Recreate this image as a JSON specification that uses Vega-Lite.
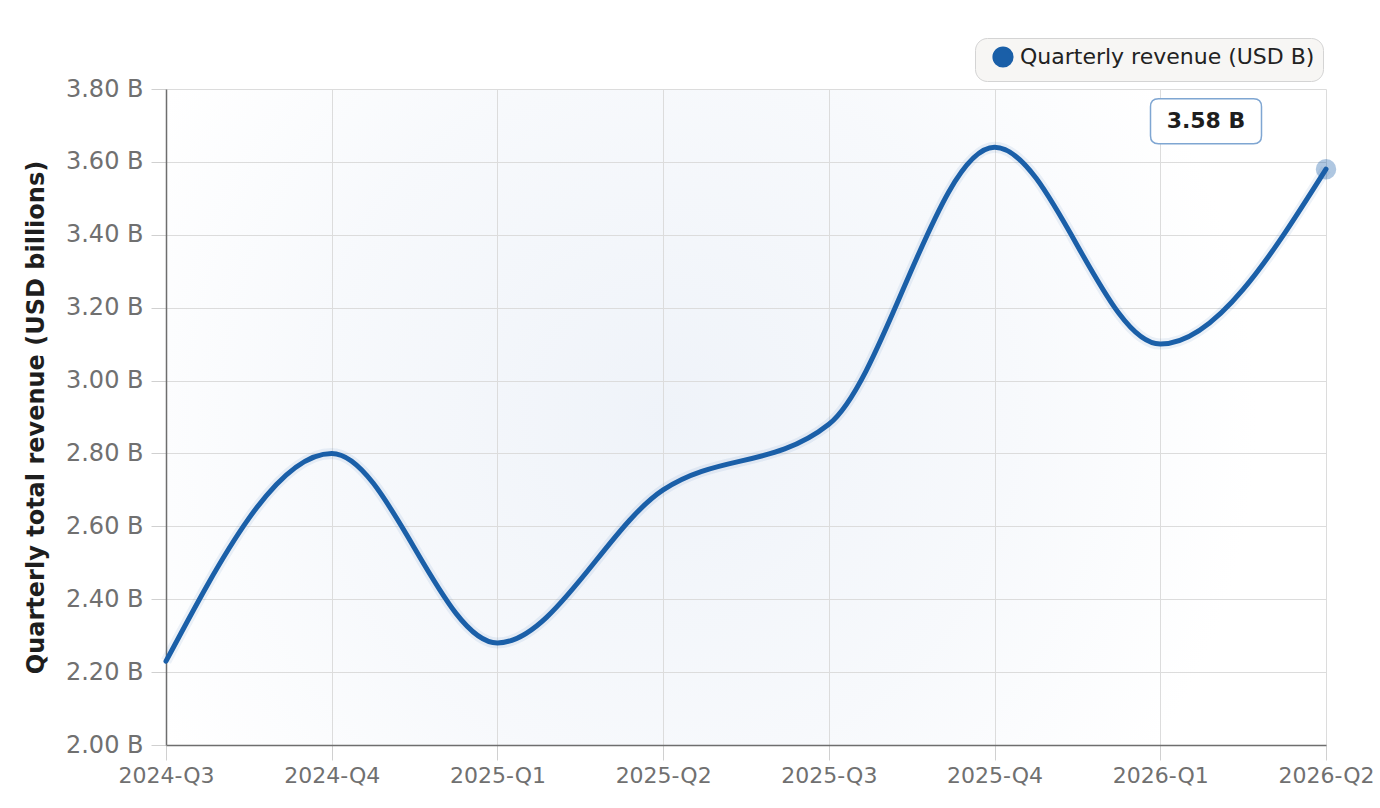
{
  "$schema": "https://vega.github.io/schema/vega-lite/v6.json",
  "width": 1160,
  "height": 656,
  "autosize": "none",
  "padding": {"left": 166, "top": 89, "right": 54, "bottom": 63},
  "background": "#ffffff",
  "config": {
    "font": "DejaVu Sans",
    "view": {
      "stroke": null,
      "fill": {
        "gradient": "radial",
        "x1": 0.43, "y1": 0.5, "r1": 0,
        "x2": 0.43, "y2": 0.5, "r2": 0.6,
        "stops": [
          {"offset": 0, "color": "#eff3f9"},
          {"offset": 0.5, "color": "#f7f9fc"},
          {"offset": 0.85, "color": "#ffffff"},
          {"offset": 1, "color": "#ffffff"}
        ]
      }
    },
    "axis": {
      "gridColor": "#dcdcdc",
      "gridWidth": 1,
      "domainColor": "#6e6e6e",
      "domainWidth": 1.5,
      "tickColor": "#d0d0d0",
      "tickSize": 15,
      "labelColor": "#707070",
      "labelFont": "DejaVu Sans"
    }
  },
  "data": {
    "values": [
      {"quarter": "2024-Q3", "revenue": 2.23, "series": "Quarterly revenue (USD B)"},
      {"quarter": "2024-Q4", "revenue": 2.8, "series": "Quarterly revenue (USD B)"},
      {"quarter": "2025-Q1", "revenue": 2.28, "series": "Quarterly revenue (USD B)"},
      {"quarter": "2025-Q2", "revenue": 2.7, "series": "Quarterly revenue (USD B)"},
      {"quarter": "2025-Q3", "revenue": 2.88, "series": "Quarterly revenue (USD B)"},
      {"quarter": "2025-Q4", "revenue": 3.64, "series": "Quarterly revenue (USD B)"},
      {"quarter": "2026-Q1", "revenue": 3.1, "series": "Quarterly revenue (USD B)"},
      {"quarter": "2026-Q2", "revenue": 3.58, "series": "Quarterly revenue (USD B)"}
    ]
  },
  "encoding": {
    "x": {
      "field": "quarter", "type": "ordinal", "title": null,
      "scale": {"type": "point", "padding": 0},
      "axis": {"labelAngle": 0, "labelFontSize": 22, "labelPadding": 5, "grid": true, "domain": true}
    },
    "y": {
      "field": "revenue", "type": "quantitative",
      "title": "Quarterly total revenue (USD billions)",
      "scale": {"domain": [2.0, 3.8], "nice": false, "zero": false},
      "axis": {
        "values": [2.0, 2.2, 2.4, 2.6, 2.8, 3.0, 3.2, 3.4, 3.6, 3.8],
        "labelExpr": "format(datum.value, '.2f') + ' B'",
        "labelFontSize": 24,
        "labelPadding": 8,
        "titleFontSize": 24,
        "titleFontWeight": "bold",
        "titleColor": "#1e1e1e",
        "titlePadding": 17,
        "domain": true
      }
    }
  },
  "layer": [
    {
      "mark": {"type": "line", "interpolate": "monotone", "stroke": "#1a5fa8", "strokeWidth": 11, "opacity": 0.08}
    },
    {
      "mark": {"type": "line", "interpolate": "monotone", "strokeWidth": 5, "strokeCap": "round"},
      "encoding": {
        "color": {
          "field": "series", "type": "nominal",
          "scale": {"range": ["#1a5fa8"]},
          "legend": {
            "title": null,
            "orient": "none",
            "legendX": 809,
            "legendY": -51,
            "symbolType": "circle",
            "symbolSize": 330,
            "symbolFillColor": "#1a5fa8",
            "symbolStrokeColor": "#ffffff",
            "symbolStrokeWidth": 3,
            "symbolOffset": 9,
            "labelFontSize": 22,
            "labelLimit": 500,
            "labelOffset": 6,
            "labelColor": "#222222",
            "fillColor": "#f7f6f4",
            "strokeColor": "#d4d4d4",
            "cornerRadius": 12,
            "padding": 8
          }
        }
      }
    },
    {
      "transform": [{"filter": "datum.quarter == '2026-Q2'"}],
      "mark": {"type": "point", "filled": true, "size": 420, "color": "#1a5fa8", "opacity": 0.35}
    },
    {
      "transform": [{"filter": "datum.quarter == '2026-Q2'"}],
      "mark": {
        "type": "point",
        "shape": "M -0.856,-0.405 L 0.856,-0.405 Q 1,-0.405 1,-0.261 L 1,0.261 Q 1,0.405 0.856,0.405 L -0.856,0.405 Q -1,0.405 -1,0.261 L -1,-0.261 Q -1,-0.405 -0.856,-0.405 Z",
        "size": 12321,
        "filled": true,
        "fill": "#ffffff",
        "stroke": "#7fa6d2",
        "strokeWidth": 1.5,
        "opacity": 1,
        "xOffset": -120,
        "yOffset": -48
      }
    },
    {
      "transform": [
        {"filter": "datum.quarter == '2026-Q2'"},
        {"calculate": "format(datum.revenue, '.2f') + ' B'", "as": "label"}
      ],
      "mark": {"type": "text", "dx": -120, "dy": -48, "fontSize": 22, "fontWeight": "bold", "color": "#1e1e1e", "align": "center", "baseline": "middle"},
      "encoding": {"text": {"field": "label", "type": "nominal"}}
    }
  ]
}
